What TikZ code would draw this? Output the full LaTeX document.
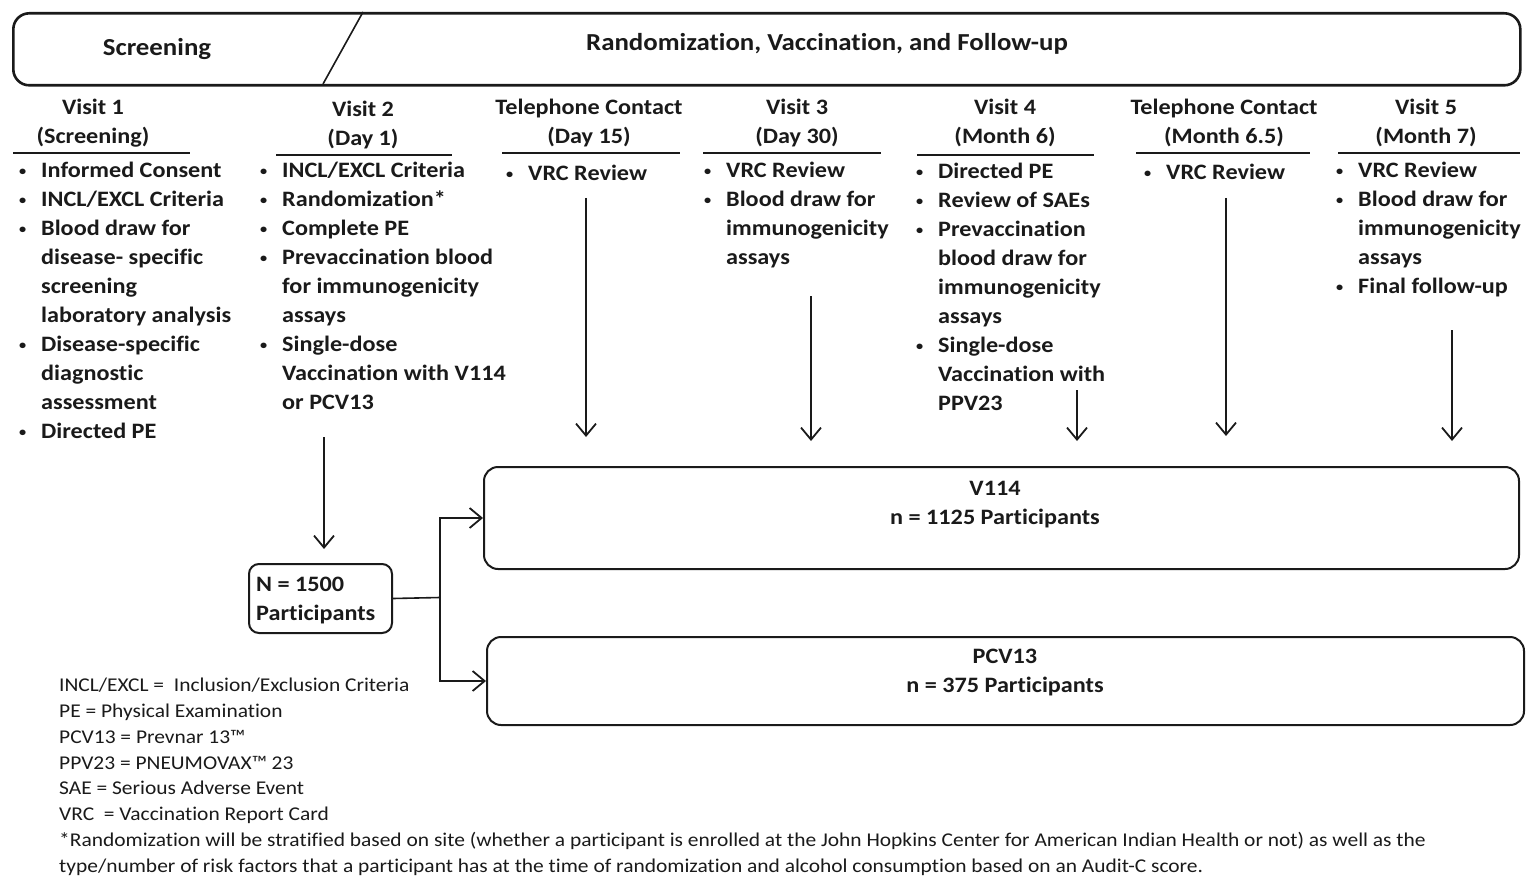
\documentclass[tikz,border=0pt]{standalone}
\usepackage{fontspec}
\setmainfont[FakeStretch=1.1, Ligatures=NoCommon]{Carlito}
\usetikzlibrary{arrows.meta}
\definecolor{ink}{HTML}{1A1A1A}
\newcommand\colfont{\fontsize{22}{29}\selectfont\bfseries}
\newcommand\legfont{\fontsize{19.5}{25.75}\selectfont}
\newcommand\bul{\raisebox{2.5pt}{\fontsize{13}{13}\selectfont\textbullet}}
\begin{document}
\begin{tikzpicture}[x=1pt,y=-1pt,
  txt/.style={inner sep=0pt, font=\colfont, text=ink},
  hd/.style={txt, align=center, anchor=base},
  lst/.style={txt, anchor=base west},
  rulel/.style={line width=1.6pt, draw=ink},
  arr/.style={line width=1.8pt, draw=ink, -{Straight Barb[length=12pt,width=20pt,line width=1.8pt]}},
  box/.style={draw=ink, line width=2pt, rounded corners=14pt, inner sep=0pt}]
\useasboundingbox (0,0) rectangle (1530,877);
\fill[white] (0,0) rectangle (1530,877);

% header band
\node[box, line width=2.6pt, rounded corners=16pt, minimum width=1507pt, minimum height=72pt, anchor=north west] (hdr) at (12,12) {};
\draw[rulel] (363,12) -- (323,84);
\node[txt, font=\fontsize{24.4}{29}\selectfont\bfseries, anchor=center] (scr) at (157,49) {Screening};
\node[txt, font=\fontsize{24.4}{29}\selectfont\bfseries, anchor=center] (rvf) at (827,44) {Randomization, Vaccination, and Follow-up};

% column headers (base = last line)
\node[hd] (h1) at (93,144) {Visit 1\\(Screening)};
\node[hd] (h2) at (363,146) {Visit 2\\(Day 1)};
\node[hd] (h3) at (589,144) {Telephone Contact\\(Day 15)};
\node[hd] (h4) at (797,144) {Visit 3\\(Day 30)};
\node[hd] (h5) at (1005,144) {Visit 4\\(Month 6)};
\node[hd] (h6) at (1224,144) {Telephone Contact\\(Month 6.5)};
\node[hd] (h7) at (1426,144) {Visit 5\\(Month 7)};

% underlines
\draw[rulel] (13,153) -- (190,153);
\draw[rulel] (276,155) -- (452,155);
\draw[rulel] (502,153) -- (680,153);
\draw[rulel] (703,153) -- (881,153);
\draw[rulel] (917,155) -- (1094,155);
\draw[rulel] (1136,153) -- (1310,153);
\draw[rulel] (1338,153) -- (1520,153);

% lists
\node[lst] (l1) at (19,178) {\begin{tabular}[t]{@{}p{22pt}@{}l@{}}
\bul & Informed Consent\\
\bul & INCL/EXCL Criteria\\
\bul & Blood draw for\\
 & disease- specific\\
 & screening\\
 & laboratory analysis\\
\bul & Disease-specific\\
 & diagnostic\\
 & assessment\\
\bul & Directed PE
\end{tabular}};
\node[lst] (l2) at (260,178) {\begin{tabular}[t]{@{}p{22pt}@{}l@{}}
\bul & INCL/EXCL Criteria\\
\bul & Randomization*\\
\bul & Complete PE\\
\bul & Prevaccination blood\\
 & for immunogenicity\\
 & assays\\
\bul & Single-dose\\
 & Vaccination with V114\\
 & or PCV13
\end{tabular}};
\node[lst] (l3) at (506,181) {\begin{tabular}[t]{@{}p{22pt}@{}l@{}}
\bul & VRC Review
\end{tabular}};
\node[lst] (l4) at (704,178) {\begin{tabular}[t]{@{}p{22pt}@{}l@{}}
\bul & VRC Review\\
\bul & Blood draw for\\
 & immunogenicity\\
 & assays
\end{tabular}};
\node[lst] (l5) at (916,179) {\begin{tabular}[t]{@{}p{22pt}@{}l@{}}
\bul & Directed PE\\
\bul & Review of SAEs\\
\bul & Prevaccination\\
 & blood draw for\\
 & immunogenicity\\
 & assays\\
\bul & Single-dose\\
 & Vaccination with\\
 & PPV23
\end{tabular}};
\node[lst] (l6) at (1144,180) {\begin{tabular}[t]{@{}p{22pt}@{}l@{}}
\bul & VRC Review
\end{tabular}};
\node[lst] (l7) at (1336,178) {\begin{tabular}[t]{@{}p{22pt}@{}l@{}}
\bul & VRC Review\\
\bul & Blood draw for\\
 & immunogenicity\\
 & assays\\
\bul & Final follow-up
\end{tabular}};

% arm boxes
\node[box, minimum width=1035pt, minimum height=102pt, anchor=north west] (v114) at (483,466) {};
\node[txt, align=center, anchor=base] (v114t) at (995,524) {V114\\n = 1125 Participants};
\node[box, minimum width=1037pt, minimum height=88pt, anchor=north west] (pcv) at (486,636) {};
\node[txt, align=center, anchor=base] (pcvt) at (1005,692) {PCV13\\n = 375 Participants};
\node[box, rounded corners=10pt, minimum width=143pt, minimum height=69pt, anchor=north west] (nbox) at (248,563) {};
\node[txt, align=left, anchor=base west] (nboxt) at (256,620) {N = 1500\\Participants};

% arrows from visits
\coordinate (s2) at (324,437); \coordinate (e2) at (324,549);
\coordinate (s3) at (586,198); \coordinate (e3) at (586,437);
\coordinate (s4) at (811,296); \coordinate (e4) at (811,441);
\coordinate (s5) at (1077,390); \coordinate (e5) at (1077,441);
\coordinate (s6) at (1226,198); \coordinate (e6) at (1226,436);
\coordinate (s7) at (1452,330); \coordinate (e7) at (1452,441);
\draw[arr] (s2) -- (e2);
\draw[arr] (s3) -- (e3);
\draw[arr] (s4) -- (e4);
\draw[arr] (s5) -- (e5);
\draw[arr] (s6) -- (e6);
\draw[arr] (s7) -- (e7);

% split
\coordinate (jx) at (440,597.5);
\draw[rulel] (nbox.east) -- (jx);
\draw[arr] (jx) |- (v114.west);
\draw[arr] (jx) |- (pcv.west);

% legend (base = last line)
\node[inner sep=0pt, font=\legfont, text=ink, align=left, anchor=base west] (leg) at (59,872) {INCL/EXCL =\ \ Inclusion/Exclusion Criteria\\
PE = Physical Examination\\
PCV13 = Prevnar 13™\\
PPV23 = PNEUMOVAX™ 23\\
SAE = Serious Adverse Event\\
VRC\ \ = Vaccination Report Card\\
*Randomization will be stratified based on site (whether a participant is enrolled at the John Hopkins Center for American Indian Health or not) as well as the\\
type/number of risk factors that a participant has at the time of randomization and alcohol consumption based on an Audit-C score.};
\end{tikzpicture}
\end{document}
